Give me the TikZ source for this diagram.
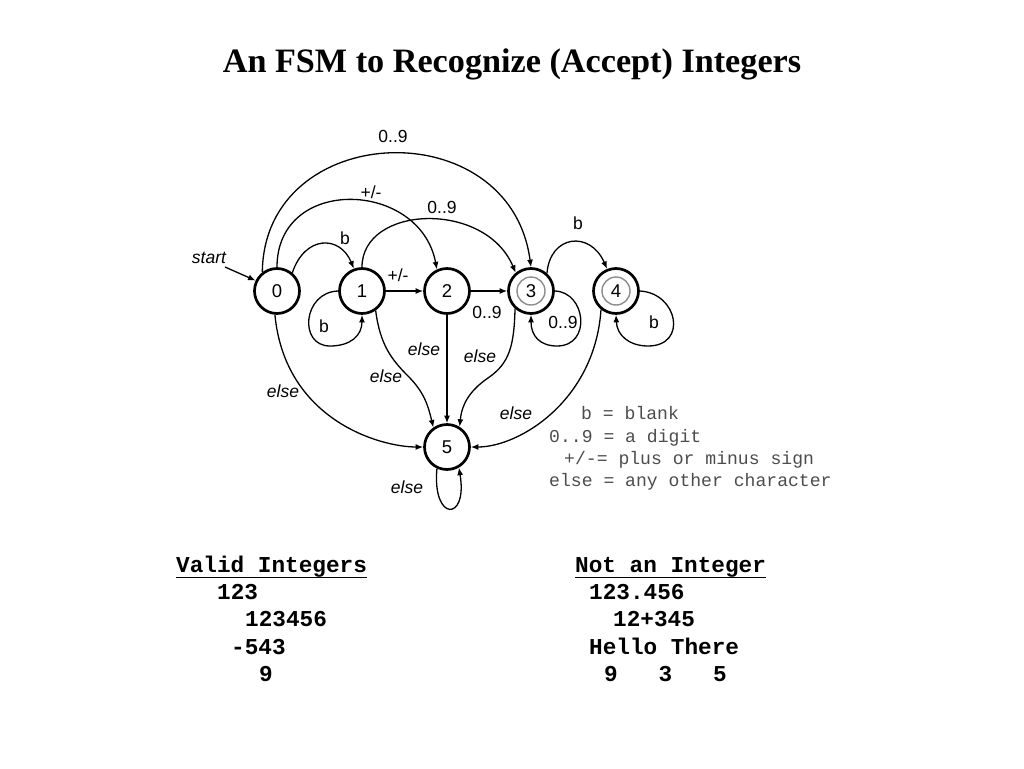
\documentclass[tikz,border=0pt]{standalone}
\usepackage{fontspec}
\setmainfont{Liberation Serif}
\newfontfamily\arialf{Liberation Sans}
\newfontfamily\courf{Liberation Mono}
\usetikzlibrary{arrows.meta}
\begin{document}
\begin{tikzpicture}[x=1pt,y=1pt,
  state/.style={circle, draw, line width=2.7pt, minimum size=45pt, inner sep=0pt,
    font=\arialf\fontsize{18.5}{18.5}\selectfont},
  ring/.style={draw=black!45, line width=1.4pt},
  edge/.style={line width=1.3pt, -{Latex[length=7.5pt,width=6pt]}},
  lbl/.style={inner sep=0pt, font=\arialf\fontsize{17.5}{17.5}\selectfont},
  ilbl/.style={lbl, font=\arialf\itshape\fontsize{17.5}{17.5}\selectfont},
  legend/.style={inner sep=0pt, anchor=base west, text=black!70, font=\courf\fontsize{18.1}{18.1}\selectfont},
  listtxt/.style={inner sep=0pt, anchor=base west, font=\courf\bfseries\fontsize{22.7}{22.7}\selectfont},
  titletxt/.style={inner sep=0pt, anchor=base, font=\bfseries\fontsize{34.2}{34.2}\selectfont}
]
\useasboundingbox (0,0) rectangle (1024,-768);

% title
\node[titletxt] (title) at (512,-72) {An FSM to Recognize (Accept) Integers};

% states
\node[state] (n0) at (277,-291) {0};
\node[state] (n1) at (362,-291) {1};
\node[state] (n2) at (447,-291) {2};
\node[state] (n3) at (531,-291) {3};
\node[state] (n4) at (616,-291) {4};
\node[state] (n5) at (447,-447) {5};
\draw[ring] (n3.center) circle[radius=14];
\draw[ring] (n4.center) circle[radius=14];

% start
\node[ilbl] (startlbl) at (209,-258) {start};
\coordinate (st) at (225,-267);
\draw[edge] (st) -- (n0.154);

% top arcs
\draw[edge] (n0.128) .. controls (264,-120) and (510,-110) .. (n3.90);
\node[lbl] (l03) at (393,-136) {0..9};

\draw[edge] (n0.90) .. controls (277,-175) and (420,-180) .. (n2.115);
\node[lbl] (l02) at (371,-192) {+/-};

\draw[edge] (n1.90) .. controls (362,-205) and (485,-200) .. (n3.130);
\node[lbl] (l13) at (442,-207) {0..9};

\draw[edge] (n0.50) .. controls (305,-235) and (340,-235) .. (n1.110);
\node[lbl] (l01) at (345,-238) {b};

\draw[edge] (n3.48) .. controls (550,-235) and (590,-230) .. (n4.112);
\node[lbl] (l34) at (578,-223) {b};

% straight
\draw[edge] (n1) -- (n2);
\node[lbl] (l12) at (398,-275) {+/-};
\draw[edge] (n2) -- (n3);
\node[lbl] (l23) at (487,-312) {0..9};

% self loops
\draw[edge] (n1.west) .. controls (303,-292) and (298,-346) .. (330,-346)
  .. controls (350,-346) and (362,-336) .. (n1.south);
\node[lbl] (l11) at (324,-326) {b};

\draw[edge] (n3.east) .. controls (586,-292) and (592,-346) .. (557,-346)
  .. controls (540,-346) and (531,-336) .. (n3.south);
\node[lbl] (l33) at (563,-322) {0..9};

\draw[edge] (n4.east) .. controls (678,-293) and (688,-346) .. (648,-346)
  .. controls (630,-346) and (617,-336) .. (n4.south);
\node[lbl] (l44) at (654,-322) {b};

% else edges
\draw[edge] (n0.265) .. controls (285,-420) and (380,-447) .. (n5.west);
\node[ilbl] (l05) at (283,-391) {else};

\draw[edge] (n1.-55) .. controls (380,-345) and (392,-360) .. (408,-376)
  .. controls (424,-392) and (428,-405) .. (n5.125);
\node[ilbl] (l15) at (386,-376) {else};

\draw[edge] (n2) -- (n5);
\node[ilbl] (l25) at (424,-349) {else};

\draw[edge] (n3.228) .. controls (514,-345) and (510,-363) .. (488,-378)
  .. controls (472,-389) and (462,-402) .. (n5.58);
\node[ilbl] (l35) at (480,-356) {else};

\draw[edge] (n4.231) .. controls (595,-400) and (520,-447) .. (n5.east);
\node[ilbl] (l45) at (516,-413) {else};

\draw[edge] (n5.245) .. controls (432,-522) and (468,-522) .. (n5.300);
\node[ilbl] (l55) at (407,-487) {else};

% legend
\node[legend] (lg1) at (581,-419) {b = blank};
\node[legend] (lg2) at (549,-442) {0..9 = a digit};
\node[legend] (lg3) at (564,-464) {+/-= plus or minus sign};
\node[legend] (lg4) at (549,-486) {else = any other character};

% lists
\node[listtxt] (vh) at (176,-572) {Valid Integers};
\draw[line width=1.8pt] ([yshift=-5.5pt]vh.base west) -- ([yshift=-5.5pt]vh.base east);
\node[listtxt] (v1) at (217,-599) {123};
\node[listtxt] (v2) at (245,-626.5) {123456};
\node[listtxt] (v3) at (231,-654) {-543};
\node[listtxt] (v4) at (259,-681) {9};

\node[listtxt] (nh) at (575,-572) {Not an Integer};
\draw[line width=1.8pt] ([yshift=-5.5pt]nh.base west) -- ([yshift=-5.5pt]nh.base east);
\node[listtxt] (w1) at (589,-599) {123.456};
\node[listtxt] (w2) at (613,-626.5) {12+345};
\node[listtxt] (w3) at (589,-654) {Hello There};
\node[listtxt] (w4) at (604,-681) {9\ \ \ 3\ \ \ 5};
\end{tikzpicture}
\end{document}
